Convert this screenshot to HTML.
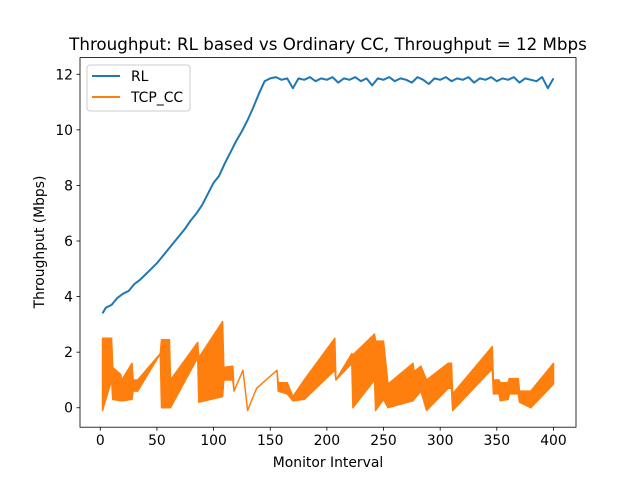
<!DOCTYPE html>
<html><head><meta charset="utf-8"><style>
html,body{margin:0;padding:0;background:#fff;}
svg{display:block;font-family:"DejaVu Sans","Liberation Sans",sans-serif;}
</style></head><body>
<svg id="chart" width="640" height="480" viewBox="0 0 640 480">
<rect width="640" height="480" fill="#fff"/>
<text x="328" y="50" font-size="16.7" text-anchor="middle" fill="#000">Throughput: RL based vs Ordinary CC, Throughput = 12 Mbps</text>
<g id="plot"></g>
<text x="328" y="467" font-size="13.9" text-anchor="middle">Monitor Interval</text>
<text transform="translate(44,242) rotate(-90)" font-size="13.9" text-anchor="middle">Throughput (Mbps)</text>
<g>
<rect x="87" y="65" width="103" height="46" rx="3" fill="#fff" fill-opacity="0.8" stroke="#ccc"/>
<g><line x1="92" y1="76" x2="120" y2="76" stroke="#1f77b4" stroke-width="2"/><text x="131" y="81" font-size="13.9">RL</text></g>
<g><line x1="92" y1="97" x2="120" y2="97" stroke="#ff7f0e" stroke-width="2"/><text x="131" y="102" font-size="13.9">TCP_CC</text></g>
</g>
</svg>
<script>
const xTicks=[0,50,100,150,200,250,300,350,400];
const yTicks=[0,2,4,6,8,10,12];
const rlX=[2,5,10,15,20,25,30,35,40,45,50,55,60,65,70,75,80,85,90,95,100,105,110,115,120,125,130,135,140,145,150,155,160,165,170,175,180,185,190,195,200,205,210,215,220,225,230,235,240,245,250,255,260,265,270,275,280,285,290,295,300,305,310,315,320,325,330,335,340,345,350,355,360,365,370,375,380,385,390,395,400];
const rlY=[3.4,3.6,3.7,3.95,4.1,4.2,4.45,4.6,4.8,5.0,5.2,5.45,5.7,5.95,6.2,6.45,6.75,7.0,7.3,7.7,8.1,8.35,8.8,9.2,9.6,9.95,10.35,10.8,11.3,11.75,11.85,11.9,11.8,11.85,11.5,11.85,11.8,11.9,11.75,11.85,11.8,11.9,11.7,11.85,11.8,11.9,11.75,11.85,11.6,11.85,11.8,11.9,11.75,11.85,11.8,11.7,11.9,11.8,11.65,11.85,11.8,11.9,11.75,11.85,11.8,11.9,11.7,11.85,11.8,11.9,11.75,11.85,11.8,11.9,11.7,11.85,11.8,11.75,11.9,11.5,11.85];
const tcpX=[2,10,11,18,19,28,29,33,53,54,61,62,86,87,108,109,117,118,126,130,138,156,157,165,170,180,207,208,222,223,242,243,250,254,276,277,283,288,307,310,311,346,347,352,353,360,361,369,370,380,400];
const tcpHi=[2.5,2.5,1.45,1.2,1.0,1.6,1.0,1.0,1.95,2.45,2.45,1.0,2.35,1.8,3.1,1.45,1.5,0.6,1.35,-0.1,0.7,1.35,0.9,0.9,0.4,1.0,2.5,1.0,1.95,1.9,2.65,2.4,2.4,0.85,1.6,1.3,1.5,1.0,1.6,1.6,0.5,2.2,1.0,1.0,0.9,0.9,1.05,1.05,0.6,0.6,1.6];
const tcpLo=[-0.1,1.0,0.3,0.25,0.25,0.3,0.6,0.6,1.95,0.0,0.0,0.0,1.8,0.2,0.4,1.0,1.0,0.6,1.35,-0.1,0.7,1.35,0.6,0.5,0.25,0.3,1.35,1.0,1.6,0.0,1.0,-0.1,0.3,0.0,0.25,0.3,0.6,-0.1,0.7,0.7,-0.1,1.4,0.5,0.5,0.25,0.3,0.5,0.5,0.2,0.0,0.85];

const L=80,R=576,T=57.6,B=427.2,xMin=-17.9,xMax=419.9,yMin=-0.7,yMax=12.6;
const sx=v=>L+(v-xMin)/(xMax-xMin)*(R-L);
const sy=v=>B-(v-yMin)/(yMax-yMin)*(B-T);
const NS='http://www.w3.org/2000/svg';
const g=document.getElementById('plot');
function mk(tag,attrs){const e=document.createElementNS(NS,tag);for(const k in attrs)e.setAttribute(k,attrs[k]);g.appendChild(e);return e;}

let pts=[];
for(let i=0;i<tcpX.length;i++)pts.push(sx(tcpX[i]).toFixed(1)+','+sy(tcpHi[i]).toFixed(1));
for(let i=tcpX.length-1;i>=0;i--)pts.push(sx(tcpX[i]).toFixed(1)+','+sy(tcpLo[i]).toFixed(1));
const tcp=mk('polygon',{points:pts.join(' '),fill:'#ff7f0e',stroke:'#ff7f0e','stroke-width':1.5,'stroke-linejoin':'round'});



const rl=mk('polyline',{points:rlX.map((x,i)=>sx(x).toFixed(1)+','+sy(rlY[i]).toFixed(1)).join(' '),fill:'none',stroke:'#1f77b4','stroke-width':2,'stroke-linejoin':'round'});



const fr=mk('rect',{x:L,y:T,width:R-L,height:B-T,fill:'none',stroke:'#000','stroke-width':0.8});



xTicks.forEach(v=>{
  const x=sx(v);
  const t=mk('line',{x1:x,y1:B,x2:x,y2:B+3.5,stroke:'#000','stroke-width':0.8});
  
  
  const l=mk('text',{x:x,y:B+18,'font-size':13.9,'text-anchor':'middle'});
  l.textContent=v;
  
  
});
yTicks.forEach(v=>{
  const y=sy(v);
  const t=mk('line',{x1:L-3.5,y1:y,x2:L,y2:y,stroke:'#000','stroke-width':0.8});
  
  
  const l=mk('text',{x:L-7,y:y+5,'font-size':13.9,'text-anchor':'end'});
  l.textContent=v;
  
  
});
</script>
</body></html>
